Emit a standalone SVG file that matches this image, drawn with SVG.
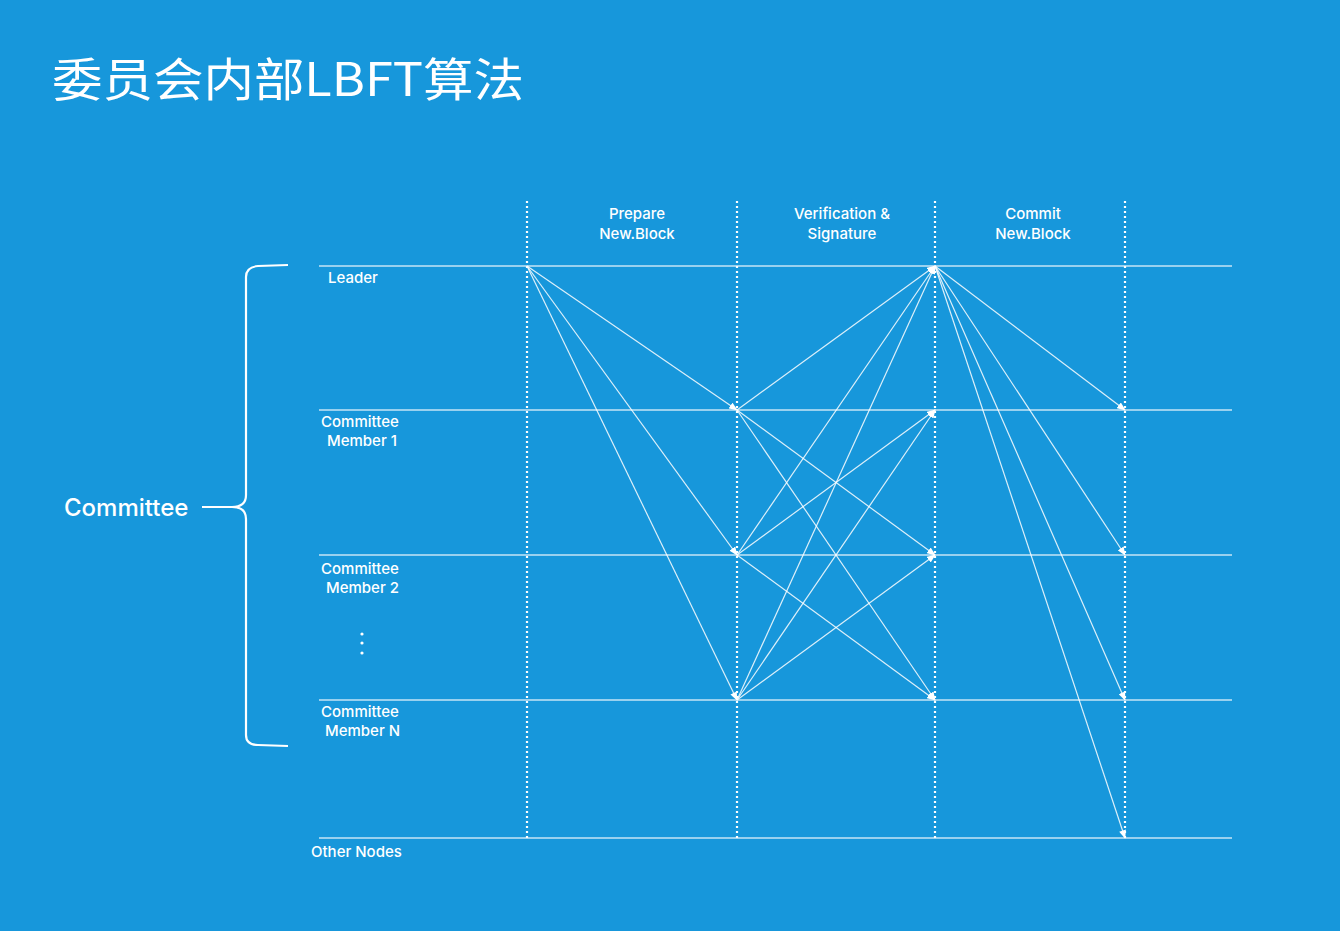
<svg xmlns="http://www.w3.org/2000/svg" width="1340" height="931" viewBox="0 0 1340 931">
<style>
.t{font-family:Inter,"Liberation Sans","Noto Sans",Arial,sans-serif;fill:#fff;font-weight:500}
.lbl{font-size:15px}
.hd{font-size:15px;text-anchor:middle}
.row{stroke:#fff;stroke-opacity:0.75;stroke-width:1.6}
.col{stroke:#fff;stroke-width:2.2;stroke-dasharray:2 3}
.ar{stroke:#fff;stroke-opacity:0.85;stroke-width:1.2;fill:none;marker-end:url(#ah)}
</style>
<defs>
<marker id="ah" viewBox="0 0 10 8" refX="9" refY="4" markerWidth="9" markerHeight="7" markerUnits="userSpaceOnUse" orient="auto">
<path d="M0,0 L10,4 L0,8 Z" fill="#fff"/>
</marker>
</defs>
<rect x="0" y="0" width="1340" height="931" fill="#1797db"/>
<text x="52" y="96" textLength="472" lengthAdjust="spacingAndGlyphs" style="font-family:'Noto Sans CJK SC','Liberation Sans',sans-serif;font-size:46px;fill:#fff">委员会内部LBFT算法</text>

<g id="rows">
<line class="row" x1="319" y1="266" x2="1232" y2="266"/>
<line class="row" x1="319" y1="410" x2="1232" y2="410"/>
<line class="row" x1="319" y1="555" x2="1232" y2="555"/>
<line class="row" x1="319" y1="700" x2="1232" y2="700"/>
<line class="row" x1="319" y1="838" x2="1232" y2="838"/>
</g>
<g id="columns">
<line class="col" x1="527" y1="201" x2="527" y2="838"/>
<line class="col" x1="737" y1="201" x2="737" y2="838"/>
<line class="col" x1="935" y1="201" x2="935" y2="838"/>
<line class="col" x1="1125" y1="201" x2="1125" y2="838"/>
</g>

<g id="headers">
<text class="t hd" x="637" y="219">Prepare</text>
<text class="t hd" x="637" y="239">New.Block</text>
<text class="t hd" x="842" y="219">Verification &amp;</text>
<text class="t hd" x="842" y="239">Signature</text>
<text class="t hd" x="1033" y="219">Commit</text>
<text class="t hd" x="1033" y="239">New.Block</text>
</g>

<g id="leader"><text class="t lbl" x="328" y="283">Leader</text></g>
<g id="member1"><text class="t lbl" x="321" y="427">Committee</text><text class="t lbl" x="327" y="446">Member 1</text></g>
<g id="member2"><text class="t lbl" x="321" y="574">Committee</text><text class="t lbl" x="326" y="593">Member 2</text></g>
<g id="ellipsis"><circle cx="362" cy="634" r="1.6" fill="#fff"/><circle cx="362" cy="643" r="1.6" fill="#fff"/><circle cx="362" cy="653" r="1.6" fill="#fff"/></g>
<g id="memberN"><text class="t lbl" x="321" y="717">Committee</text><text class="t lbl" x="325" y="736">Member N</text></g>
<g id="other"><text class="t lbl" x="311" y="857">Other Nodes</text></g>

<g id="committee">
<text class="t" x="64" y="516" style="font-size:24px">Committee</text>
<path d="M202,507 L232,507 Q246,507 246,495 L246,277 Q246,267 258,266 L288,265 M232,507 Q246,507 246,519 L246,735 Q246,745 258,745 L288,746" fill="none" stroke="#fff" stroke-width="2.2"/>
</g>

<g id="connectors">
<line class="ar" x1="527" y1="266" x2="737" y2="410"/>
<line class="ar" x1="527" y1="266" x2="737" y2="555"/>
<line class="ar" x1="527" y1="266" x2="737" y2="700"/>

<line class="ar" x1="737" y1="410" x2="935" y2="266"/>
<line class="ar" x1="737" y1="410" x2="935" y2="555"/>
<line class="ar" x1="737" y1="410" x2="935" y2="700"/>
<line class="ar" x1="737" y1="555" x2="935" y2="266"/>
<line class="ar" x1="737" y1="555" x2="935" y2="410"/>
<line class="ar" x1="737" y1="555" x2="935" y2="700"/>
<line class="ar" x1="737" y1="700" x2="935" y2="266"/>
<line class="ar" x1="737" y1="700" x2="935" y2="410"/>
<line class="ar" x1="737" y1="700" x2="935" y2="555"/>

<line class="ar" x1="935" y1="266" x2="1125" y2="410"/>
<line class="ar" x1="935" y1="266" x2="1125" y2="555"/>
<line class="ar" x1="935" y1="266" x2="1125" y2="700"/>
<line class="ar" x1="935" y1="266" x2="1125" y2="838"/>
</g>
</svg>
